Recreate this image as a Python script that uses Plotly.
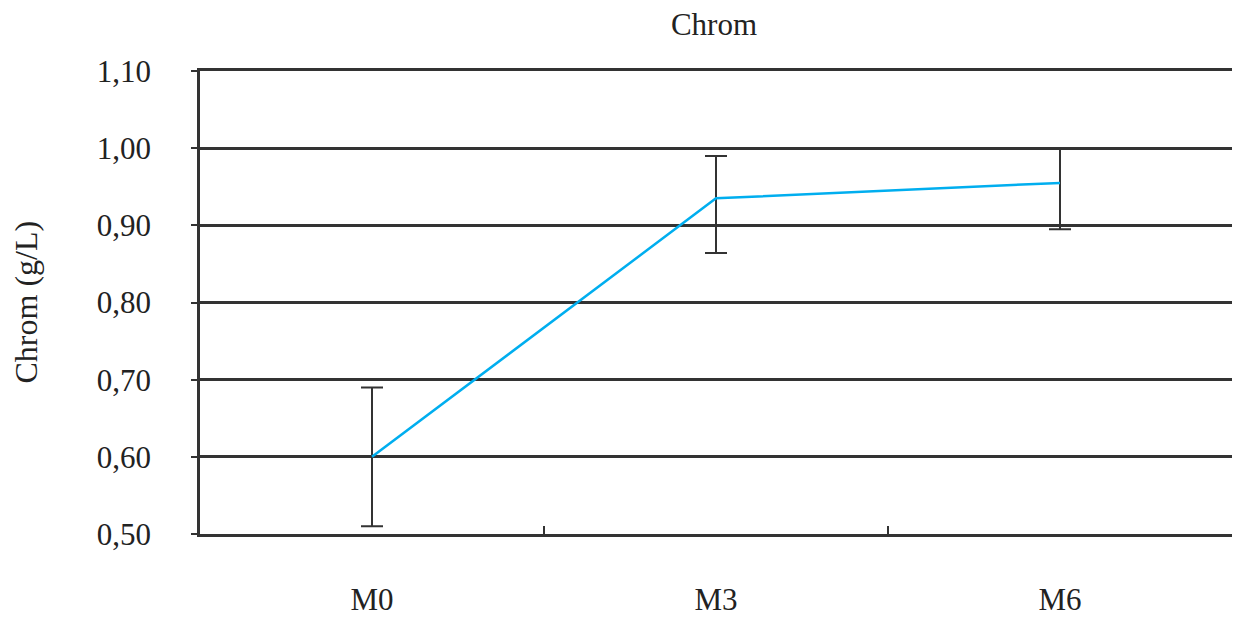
import plotly.graph_objects as go

categories = ["M0", "M3", "M6"]
chrom_values = [0.600, 0.935, 0.955]
err_plus = [0.090, 0.055, 0.044]
err_minus = [0.090, 0.071, 0.060]
y_ticks = [0.50, 0.60, 0.70, 0.80, 0.90, 1.00, 1.10]

FONT = "Liberation Serif, Times New Roman, serif"
DARK = "#333333"

W, H = 1233, 619
ML, MR, MT, MB = 200, 1, 71, 85

fig = go.Figure()
fig.add_trace(go.Scatter(
    x=categories, y=chrom_values, mode="lines",
    line=dict(color="#00AEEF", width=2.5),
    error_y=dict(type="data", symmetric=False, array=err_plus, arrayminus=err_minus,
                 color=DARK, thickness=2, width=11),
    showlegend=False, hoverinfo="skip",
))

fig.update_layout(
    width=W, height=H,
    margin=dict(l=ML, r=MR, t=MT, b=MB, autoexpand=False),
    paper_bgcolor="white", plot_bgcolor="white",
    separators=",.",
    font=dict(family=FONT, color="#222222"),
    title=dict(text="Chrom", x=(714) / W, xanchor="center", y=1 - 24 / H,
               yanchor="middle", yref="container", font=dict(size=31, family=FONT)),
    xaxis=dict(
        type="category", range=[-0.5, 2.5], showgrid=False, automargin=False,
        showline=True, linecolor=DARK, linewidth=2.5, mirror=True,
        ticks="inside", tickson="boundaries", ticklen=8, tickwidth=2, tickcolor=DARK,
        tickfont=dict(size=31, family=FONT, color="#222222"),
        ticklabelstandoff=36,
    ),
    yaxis=dict(
        range=[0.5, 1.1], tickvals=y_ticks, tickformat=".2f", automargin=False,
        showgrid=True, gridcolor=DARK, gridwidth=2.5, zeroline=False,
        showline=True, linecolor=DARK, linewidth=2.5,
        ticks="outside", ticklen=6, tickwidth=2, tickcolor=DARK,
        tickfont=dict(size=31, family=FONT, color="#222222"),
        ticklabelstandoff=34,
    ),
    annotations=[dict(
        text="Chrom (g/L)", textangle=-90, xref="paper", yref="paper",
        x=-(ML - 25) / (W - ML - MR), y=0.5, xanchor="center", yanchor="middle",
        showarrow=False, font=dict(size=32, family=FONT, color="#222222"),
    )],
)

fig.write_html("out.html", config={"displayModeBar": False},
               post_script="document.body.style.margin='0';document.body.style.overflow='hidden';")
